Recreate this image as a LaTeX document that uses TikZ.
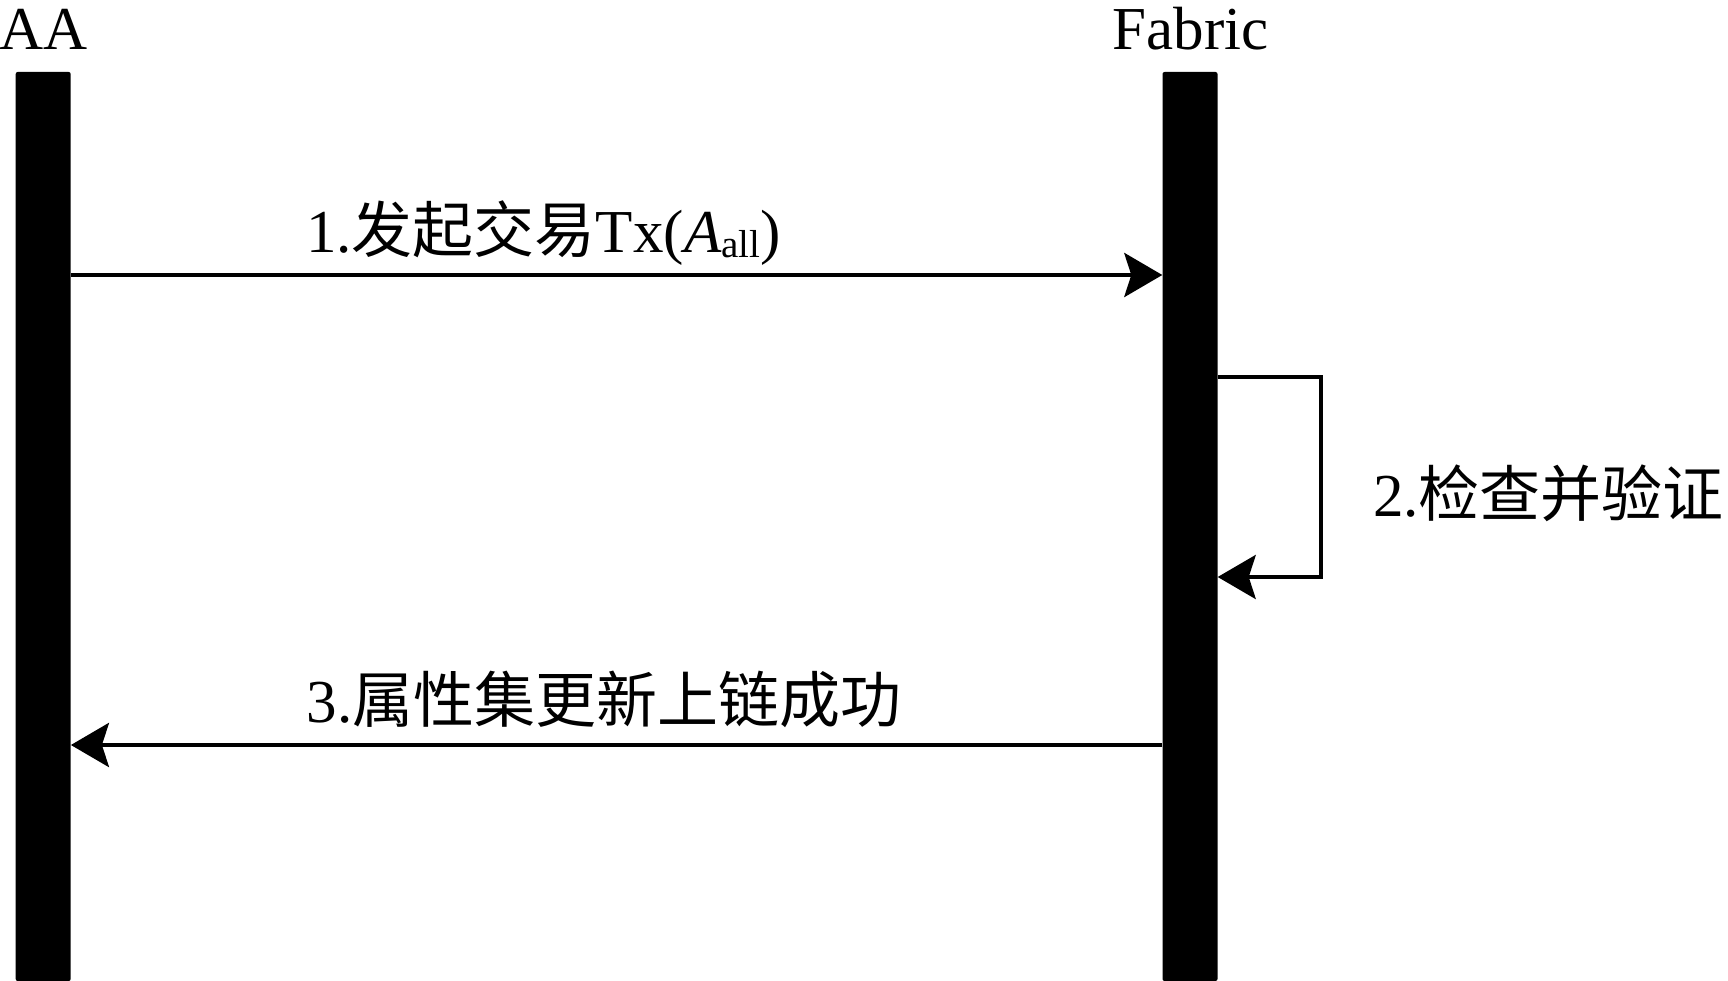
\documentclass[tikz,border=0pt]{standalone}
\usepackage{fontspec}
\setmainfont{Liberation Serif}
\newfontfamily\cjk{Noto Sans CJK SC}
\usetikzlibrary{arrows.meta}
\begin{document}
\begin{tikzpicture}[x=1pt,y=-1pt,
  lifebar/.style={fill=black,draw=none,minimum width=55pt,minimum height=909pt,inner sep=0pt,rounded corners=2pt},
  tipstyle/.style={-{Stealth[length=38pt,width=44pt,inset=7pt]}},
  msg/.style={line width=4.5pt,tipstyle},
  loopmsg/.style={line width=4pt,line join=miter,tipstyle},
  lbl/.style={font=\fontsize{61}{70}\selectfont,inner sep=0pt,anchor=base west},
  hdr/.style={font=\fontsize{61}{70}\selectfont,inner sep=0pt,anchor=base}]
\useasboundingbox (0,0) rectangle (1728,981);
% lifelines
\node[lifebar] (aa) at (43.2,526.5) {};
\node[lifebar] (fab) at (1190,526.5) {};
% headers
\node[hdr] (aah) at (44,50) {AA};
\node[hdr] (fabh) at (1190.5,50) {Fabric};
% message rows
\coordinate (r1) at (0,275);
\coordinate (r2a) at (0,377);
\coordinate (r2b) at (0,577);
\coordinate (r3) at (0,745);
\coordinate (lx) at (1321,0);
% message 1
\draw[msg] (aa.east |- r1) -- (fab.west |- r1);
\node[lbl] (m1) at (306,253) {1.{\cjk 发起交易}Tx(\textit{A}\raisebox{-5pt}{\fontsize{39}{40}\selectfont all})};
% message 2 (self)
\draw[loopmsg] (fab.east |- r2a) -- (lx |- r2a) -- (lx |- r2b) -- (fab.east |- r2b);
\node[lbl] (m2) at (1373,516) {2.{\cjk 检查并验证}};
% message 3
\draw[msg] (fab.west |- r3) -- (aa.east |- r3);
\node[lbl] (m3) at (306.5,722) {3.{\cjk 属性集更新上链成功}};
\end{tikzpicture}
\end{document}
